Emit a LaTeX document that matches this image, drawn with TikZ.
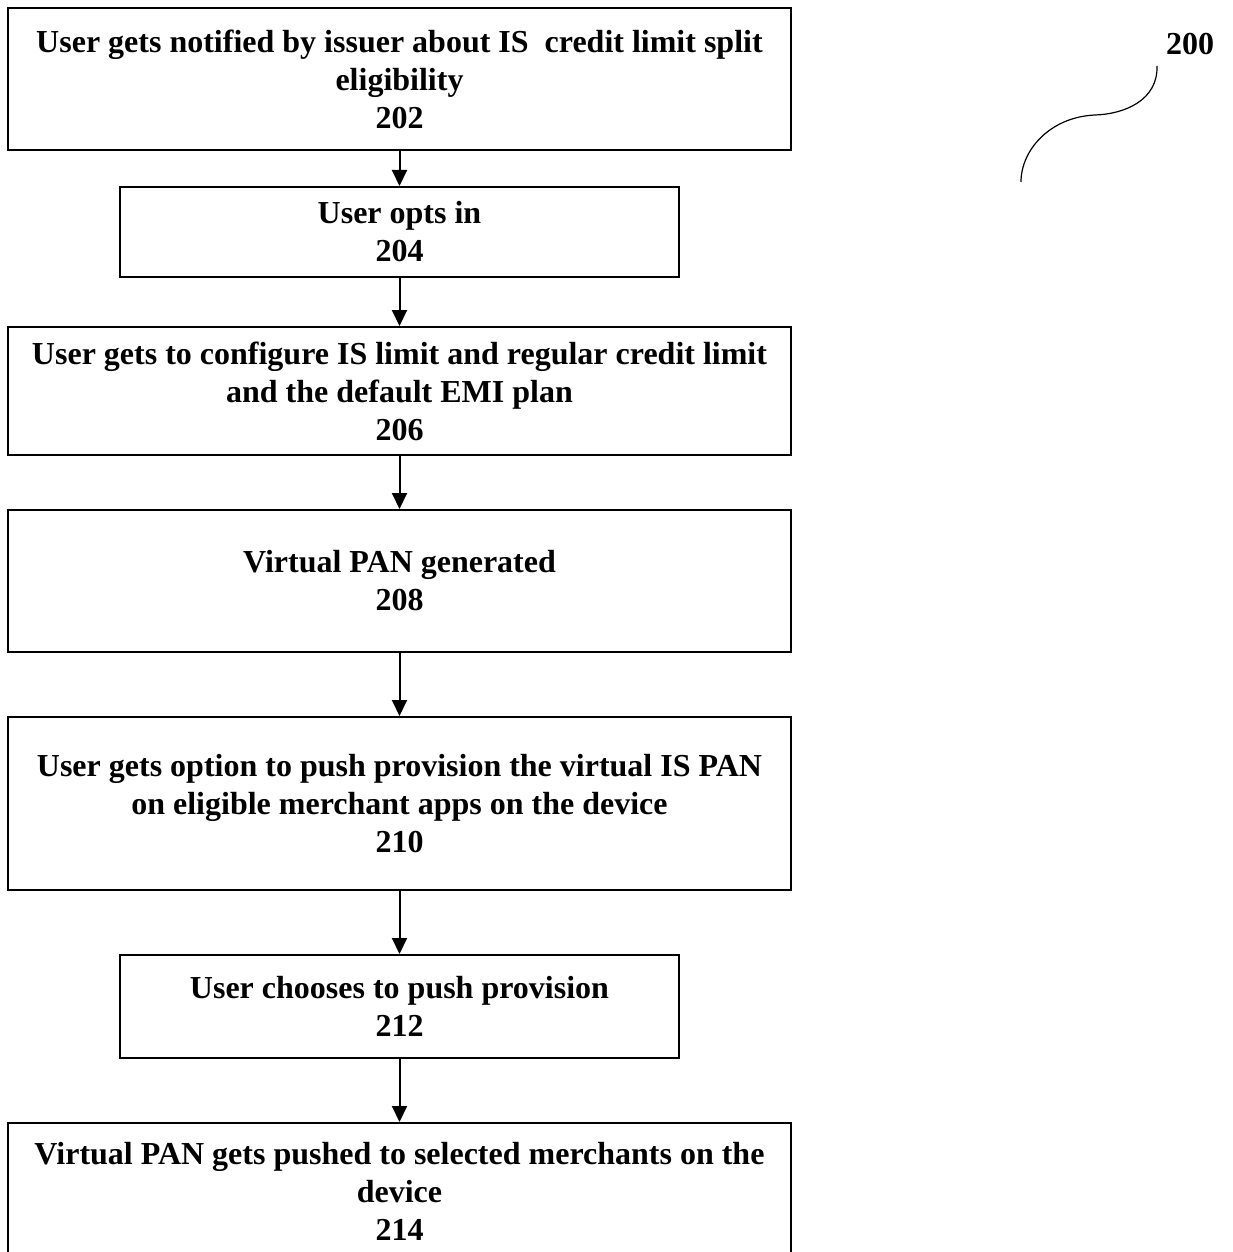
\documentclass[tikz,border=0pt]{standalone}
\usepackage{fontspec}
\setmainfont{Liberation Serif}
\usetikzlibrary{arrows.meta}
\tikzset{
  stepbox/.style={draw, line width=2pt, rectangle, inner sep=0pt, align=center,
    font=\fontsize{32}{38}\selectfont\bfseries},
  flow/.style={line width=2pt, -{Triangle[width=15pt,length=16pt]}},
}
\begin{document}
\begin{tikzpicture}[x=1pt,y=-1pt]
\clip (0,0) rectangle (1233,1252);
\fill[white] (0,0) rectangle (1233,1252);
\node[stepbox, minimum width=783pt, minimum height=142pt] (b202) at (399.5,79)
  {User gets notified by issuer about IS\ \ credit limit split\\eligibility\\202};
\node[stepbox, minimum width=559pt, minimum height=90pt] (b204) at (399.5,232)
  {User opts in\\204};
\node[stepbox, minimum width=783pt, minimum height=128pt] (b206) at (399.5,391)
  {User gets to configure IS limit and regular credit limit\\and the default EMI plan\\206};
\node[stepbox, minimum width=783pt, minimum height=142pt] (b208) at (399.5,581)
  {Virtual PAN generated\\208};
\node[stepbox, minimum width=783pt, minimum height=173pt] (b210) at (399.5,803.5)
  {User gets option to push provision the virtual IS PAN\\on eligible merchant apps on the device\\210};
\node[stepbox, minimum width=559pt, minimum height=103pt] (b212) at (399.5,1006.5)
  {User chooses to push provision\\212};
\node[stepbox, minimum width=783pt, minimum height=136pt] (b214) at (399.5,1191)
  {Virtual PAN gets pushed to selected merchants on the\\device\\214};
\draw[flow] (b202) -- (b204);
\draw[flow] (b204) -- (b206);
\draw[flow] (b206) -- (b208);
\draw[flow] (b208) -- (b210);
\draw[flow] (b210) -- (b212);
\draw[flow] (b212) -- (b214);
\node[font=\fontsize{32}{38}\selectfont\bfseries, inner sep=0pt] (lbl) at (1190,44) {200};
\coordinate (cstart) at (1157,66);
\coordinate (cend) at (1021,182);
\draw[line width=1.2pt] (cstart) .. controls (1158,100) and (1125,114) .. (1095,115)
  .. controls (1050,117) and (1021,150) .. (cend);
\end{tikzpicture}
\end{document}
